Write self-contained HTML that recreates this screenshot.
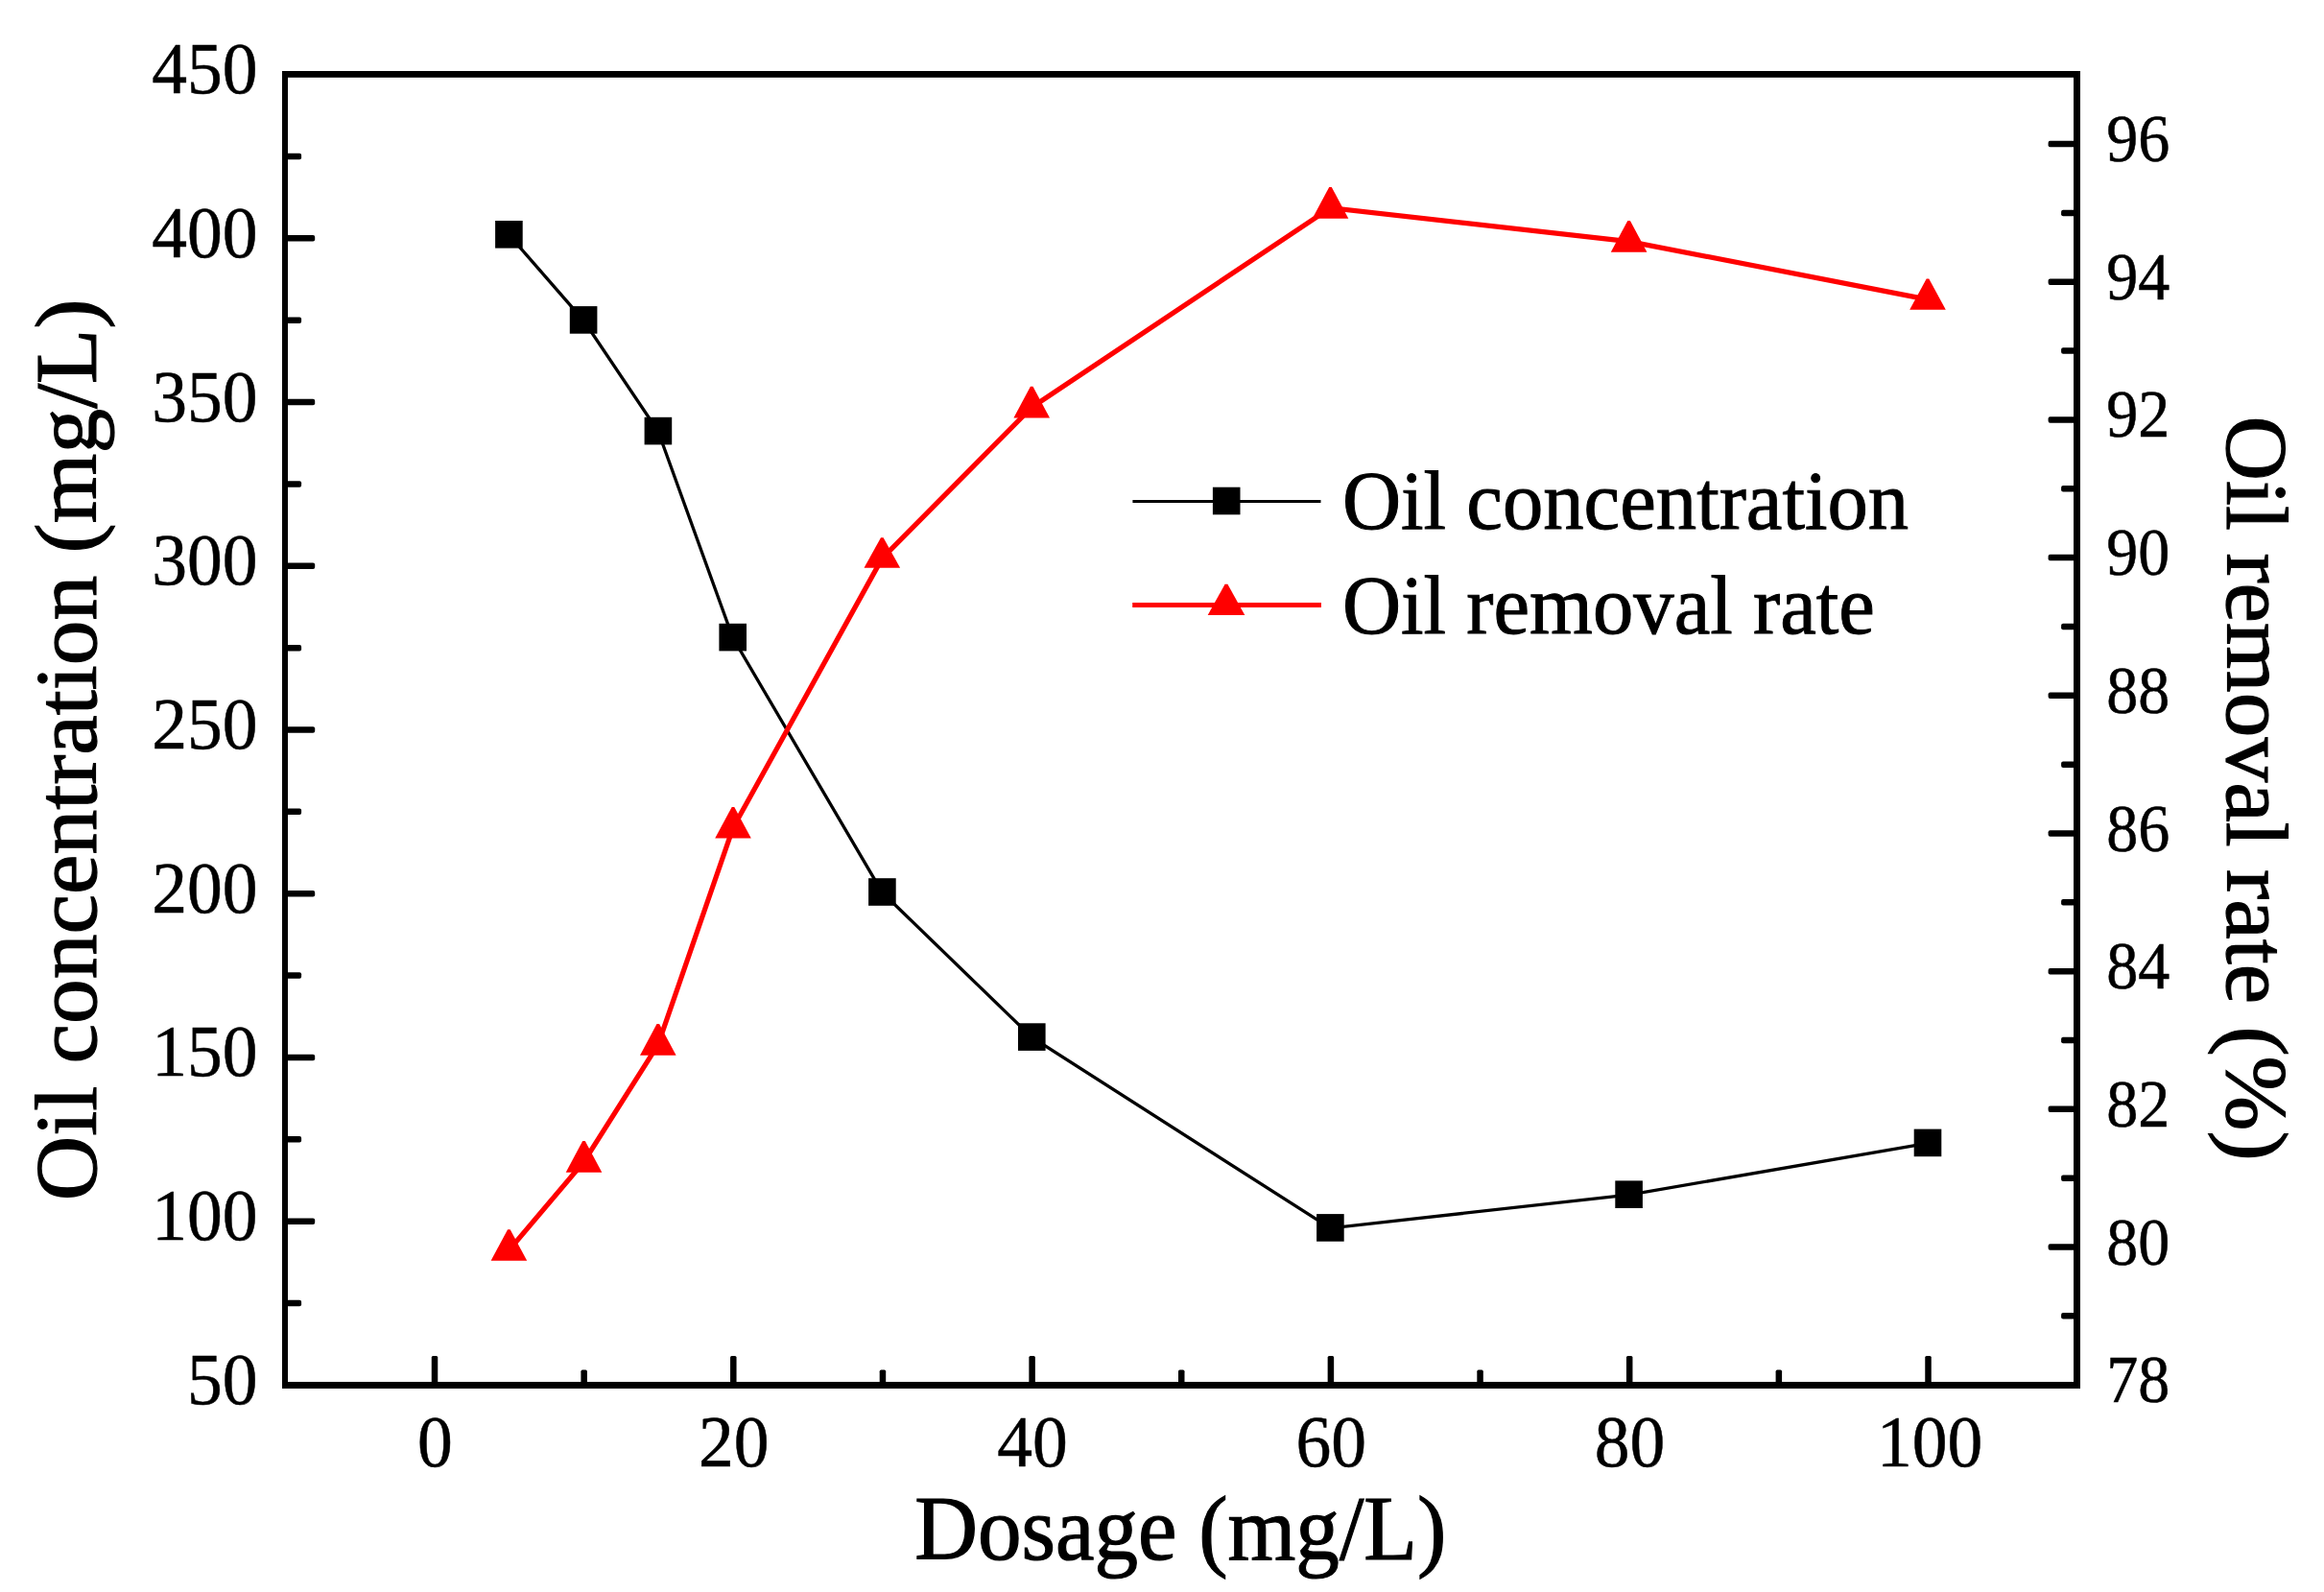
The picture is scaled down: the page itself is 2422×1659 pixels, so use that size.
<!DOCTYPE html>
<html lang="en"><head><meta charset="utf-8"><title>Oil concentration and oil removal rate vs dosage</title>
<style>html,body{margin:0;padding:0;background:#fff}body{width:2422px;height:1659px;overflow:hidden}svg{display:block}text{font-family:"Liberation Serif","Times New Roman",serif;fill:#000}</style></head><body>
<svg width="2422" height="1659" viewBox="0 0 2422 1659">
<rect width="2422" height="1659" fill="#fff"/>
<g fill="#000">
<rect x="294" y="74" width="6" height="1373"/>
<rect x="294" y="74" width="1874" height="6.8"/>
<rect x="2161" y="74" width="7" height="1373"/>
<rect x="294" y="1440" width="1874" height="7"/>
<rect x="449.75" y="1413.0" width="6.5" height="30.0" rx="1.6"/>
<rect x="605.40" y="1427.6" width="6.5" height="15.4" rx="1.6"/>
<rect x="761.05" y="1413.0" width="6.5" height="30.0" rx="1.6"/>
<rect x="916.70" y="1427.6" width="6.5" height="15.4" rx="1.6"/>
<rect x="1072.35" y="1413.0" width="6.5" height="30.0" rx="1.6"/>
<rect x="1228.00" y="1427.6" width="6.5" height="15.4" rx="1.6"/>
<rect x="1383.65" y="1413.0" width="6.5" height="30.0" rx="1.6"/>
<rect x="1539.30" y="1427.6" width="6.5" height="15.4" rx="1.6"/>
<rect x="1694.95" y="1413.0" width="6.5" height="30.0" rx="1.6"/>
<rect x="1850.60" y="1427.6" width="6.5" height="15.4" rx="1.6"/>
<rect x="2006.25" y="1413.0" width="6.5" height="30.0" rx="1.6"/>
<rect x="297" y="1354.79" width="17.1" height="6.5" rx="2"/>
<rect x="297" y="1269.43" width="31.2" height="6.5" rx="2"/>
<rect x="297" y="1184.06" width="17.1" height="6.5" rx="2"/>
<rect x="297" y="1098.70" width="31.2" height="6.5" rx="2"/>
<rect x="297" y="1013.34" width="17.1" height="6.5" rx="2"/>
<rect x="297" y="927.98" width="31.2" height="6.5" rx="2"/>
<rect x="297" y="842.61" width="17.1" height="6.5" rx="2"/>
<rect x="297" y="757.25" width="31.2" height="6.5" rx="2"/>
<rect x="297" y="671.89" width="17.1" height="6.5" rx="2"/>
<rect x="297" y="586.53" width="31.2" height="6.5" rx="2"/>
<rect x="297" y="501.16" width="17.1" height="6.5" rx="2"/>
<rect x="297" y="415.80" width="31.2" height="6.5" rx="2"/>
<rect x="297" y="330.44" width="17.1" height="6.5" rx="2"/>
<rect x="297" y="245.08" width="31.2" height="6.5" rx="2"/>
<rect x="297" y="159.71" width="17.1" height="6.5" rx="2"/>
<rect x="2148.1" y="1368.11" width="15.9" height="6.5" rx="2"/>
<rect x="2134.6" y="1296.27" width="29.4" height="6.5" rx="2"/>
<rect x="2148.1" y="1224.43" width="15.9" height="6.5" rx="2"/>
<rect x="2134.6" y="1152.59" width="29.4" height="6.5" rx="2"/>
<rect x="2148.1" y="1080.75" width="15.9" height="6.5" rx="2"/>
<rect x="2134.6" y="1008.91" width="29.4" height="6.5" rx="2"/>
<rect x="2148.1" y="937.07" width="15.9" height="6.5" rx="2"/>
<rect x="2134.6" y="865.23" width="29.4" height="6.5" rx="2"/>
<rect x="2148.1" y="793.39" width="15.9" height="6.5" rx="2"/>
<rect x="2134.6" y="721.55" width="29.4" height="6.5" rx="2"/>
<rect x="2148.1" y="649.71" width="15.9" height="6.5" rx="2"/>
<rect x="2134.6" y="577.87" width="29.4" height="6.5" rx="2"/>
<rect x="2148.1" y="506.03" width="15.9" height="6.5" rx="2"/>
<rect x="2134.6" y="434.19" width="29.4" height="6.5" rx="2"/>
<rect x="2148.1" y="362.35" width="15.9" height="6.5" rx="2"/>
<rect x="2134.6" y="290.51" width="29.4" height="6.5" rx="2"/>
<rect x="2148.1" y="218.67" width="15.9" height="6.5" rx="2"/>
<rect x="2134.6" y="146.83" width="29.4" height="6.5" rx="2"/>
</g>
<text transform="translate(453.4,1528.0) scale(0.968,1)" font-size="76.0" text-anchor="middle" stroke="#000" stroke-width="0.5">0</text>
<text transform="translate(764.7,1528.0) scale(0.968,1)" font-size="76.0" text-anchor="middle" stroke="#000" stroke-width="0.5">20</text>
<text transform="translate(1076.0,1528.0) scale(0.968,1)" font-size="76.0" text-anchor="middle" stroke="#000" stroke-width="0.5">40</text>
<text transform="translate(1387.3,1528.0) scale(0.968,1)" font-size="76.0" text-anchor="middle" stroke="#000" stroke-width="0.5">60</text>
<text transform="translate(1698.6,1528.0) scale(0.968,1)" font-size="76.0" text-anchor="middle" stroke="#000" stroke-width="0.5">80</text>
<text transform="translate(2011.1,1528.0) scale(0.968,1)" font-size="76.0" text-anchor="middle" stroke="#000" stroke-width="0.5">100</text>
<text transform="translate(268.6,1462.8) scale(0.968,1)" font-size="76.0" text-anchor="end" stroke="#000" stroke-width="0.5">50</text>
<text transform="translate(268.6,1292.1) scale(0.968,1)" font-size="76.0" text-anchor="end" stroke="#000" stroke-width="0.5">100</text>
<text transform="translate(268.6,1121.4) scale(0.968,1)" font-size="76.0" text-anchor="end" stroke="#000" stroke-width="0.5">150</text>
<text transform="translate(268.6,950.6) scale(0.968,1)" font-size="76.0" text-anchor="end" stroke="#000" stroke-width="0.5">200</text>
<text transform="translate(268.6,779.9) scale(0.968,1)" font-size="76.0" text-anchor="end" stroke="#000" stroke-width="0.5">250</text>
<text transform="translate(268.6,609.2) scale(0.968,1)" font-size="76.0" text-anchor="end" stroke="#000" stroke-width="0.5">300</text>
<text transform="translate(268.6,438.5) scale(0.968,1)" font-size="76.0" text-anchor="end" stroke="#000" stroke-width="0.5">350</text>
<text transform="translate(268.6,267.7) scale(0.968,1)" font-size="76.0" text-anchor="end" stroke="#000" stroke-width="0.5">400</text>
<text transform="translate(268.6,97.0) scale(0.968,1)" font-size="76.0" text-anchor="end" stroke="#000" stroke-width="0.5">450</text>
<text transform="translate(2195.2,1461.2) scale(0.950,1)" font-size="69.6" text-anchor="start" stroke="#000" stroke-width="0.5">78</text>
<text transform="translate(2195.2,1317.5) scale(0.950,1)" font-size="69.6" text-anchor="start" stroke="#000" stroke-width="0.5">80</text>
<text transform="translate(2195.2,1173.8) scale(0.950,1)" font-size="69.6" text-anchor="start" stroke="#000" stroke-width="0.5">82</text>
<text transform="translate(2195.2,1030.2) scale(0.950,1)" font-size="69.6" text-anchor="start" stroke="#000" stroke-width="0.5">84</text>
<text transform="translate(2195.2,886.5) scale(0.950,1)" font-size="69.6" text-anchor="start" stroke="#000" stroke-width="0.5">86</text>
<text transform="translate(2195.2,742.8) scale(0.950,1)" font-size="69.6" text-anchor="start" stroke="#000" stroke-width="0.5">88</text>
<text transform="translate(2195.2,599.1) scale(0.950,1)" font-size="69.6" text-anchor="start" stroke="#000" stroke-width="0.5">90</text>
<text transform="translate(2195.2,455.4) scale(0.950,1)" font-size="69.6" text-anchor="start" stroke="#000" stroke-width="0.5">92</text>
<text transform="translate(2195.2,311.8) scale(0.950,1)" font-size="69.6" text-anchor="start" stroke="#000" stroke-width="0.5">94</text>
<text transform="translate(2195.2,168.1) scale(0.950,1)" font-size="69.6" text-anchor="start" stroke="#000" stroke-width="0.5">96</text>
<text transform="translate(1230.2,1624.5) scale(0.949,1)" font-size="96.0" text-anchor="middle" stroke="#000" stroke-width="1.2">Dosage (mg/L)</text>
<text transform="translate(99.6,781.5) scale(0.983,1) rotate(-90)" font-size="93.5" text-anchor="middle" stroke="#000" stroke-width="1.2">Oil concentration (mg/L)</text>
<text transform="translate(2320.8,821.6) scale(0.983,1) rotate(90)" font-size="93.5" text-anchor="middle" stroke="#000" stroke-width="1.2">Oil removal rate (%)</text>
<polyline points="530.4,244.7 608.1,333.8 685.9,449.5 763.7,664.5 919.4,929.9 1075.3,1081.0 1386.4,1279.8 1697.6,1245.1 2009.0,1191.3" fill="none" stroke="#000" stroke-width="3.3"/>
<rect x="516.1" y="230.0" width="28.6" height="28.6" fill="#000"/>
<rect x="593.8" y="319.1" width="28.6" height="28.6" fill="#000"/>
<rect x="671.6" y="434.8" width="28.6" height="28.6" fill="#000"/>
<rect x="749.4" y="649.8" width="28.6" height="28.6" fill="#000"/>
<rect x="905.1" y="915.2" width="28.6" height="28.6" fill="#000"/>
<rect x="1061.0" y="1066.3" width="28.6" height="28.6" fill="#000"/>
<rect x="1372.1" y="1265.1" width="28.6" height="28.6" fill="#000"/>
<rect x="1683.3" y="1230.4" width="28.6" height="28.6" fill="#000"/>
<rect x="1994.7" y="1176.6" width="28.6" height="28.6" fill="#000"/>
<polyline points="530.4,1302.9 608.5,1210.6 685.8,1088.7 764.0,862.6 919.3,581.9 1075.2,424.5 1386.5,216.6 1697.6,251.6 2009.0,312.1" fill="none" stroke="#f00" stroke-width="5.2"/>
<polygon points="529.1,1281.2 531.7,1281.2 549.2,1313.7 511.6,1313.7" fill="#f00"/>
<polygon points="607.2,1188.9 609.8,1188.9 627.3,1221.8 589.7,1221.8" fill="#f00"/>
<polygon points="684.5,1067.0 687.1,1067.0 704.6,1099.7 667.0,1099.7" fill="#f00"/>
<polygon points="762.7,840.9 765.3,840.9 782.8,873.6 745.2,873.6" fill="#f00"/>
<polygon points="918.0,560.2 920.6,560.2 938.1,591.8 900.5,591.8" fill="#f00"/>
<polygon points="1073.9,402.8 1076.5,402.8 1094.0,435.5 1056.4,435.5" fill="#f00"/>
<polygon points="1385.2,194.9 1387.8,194.9 1405.3,227.8 1367.7,227.8" fill="#f00"/>
<polygon points="1696.3,229.9 1698.9,229.9 1716.4,262.7 1678.8,262.7" fill="#f00"/>
<polygon points="2007.7,290.4 2010.3,290.4 2027.8,322.8 1990.2,322.8" fill="#f00"/>
<line x1="1180.4" y1="522.4" x2="1376.5" y2="522.4" stroke="#000" stroke-width="3.0"/>
<rect x="1263.9" y="507.7" width="28.6" height="28.6" fill="#000"/>
<line x1="1180.2" y1="630.5" x2="1376.9" y2="630.5" stroke="#f00" stroke-width="5.1"/>
<polygon points="1276.6,608.8 1279.4,608.8 1297.3,640.9 1258.7,640.9" fill="#f00"/>
<text transform="translate(1398.9,551.4) scale(0.968,1)" font-size="87.5" text-anchor="start" stroke="#000" stroke-width="1.0">Oil concentration</text>
<text transform="translate(1398.9,659.8) scale(0.968,1)" font-size="87.5" text-anchor="start" stroke="#000" stroke-width="1.0">Oil removal rate</text>
</svg></body></html>
